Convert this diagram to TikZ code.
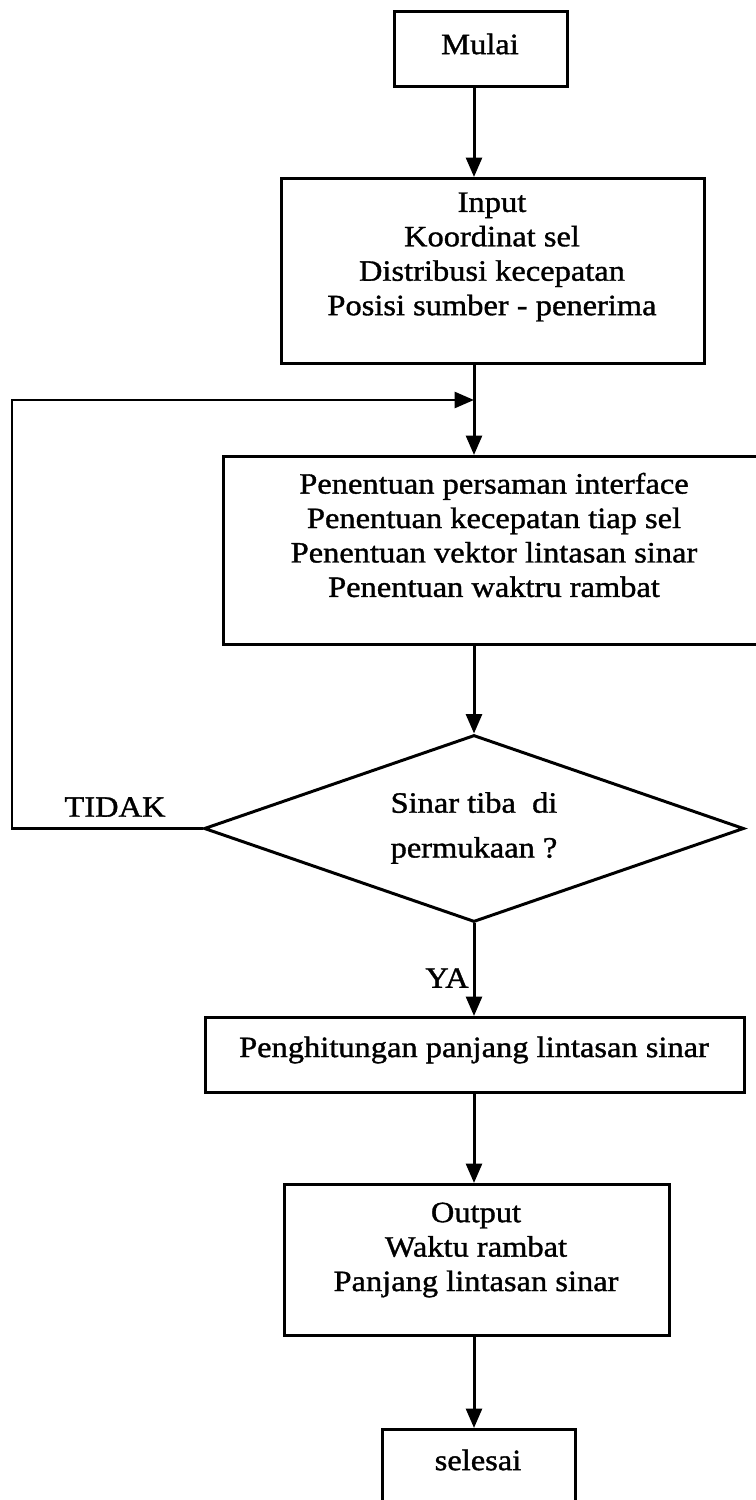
\documentclass[tikz,border=0pt]{standalone}
\usepackage{fontspec}
\setmainfont{Liberation Serif}[FakeStretch=1.1,FakeBold=1.2]
\usetikzlibrary{shapes.geometric,arrows.meta}
\begin{document}
\begin{tikzpicture}[x=0.02cm,y=-0.02cm,
  box/.style={draw, line width=1.7pt, rectangle, inner sep=0pt, anchor=north west},
  txt/.style={align=center, font=\fontsize{16.8pt}{19.6pt}\selectfont, inner sep=0pt},
  arr/.style={line width=1.7pt, -{Triangle[length=11pt,width=9pt]}}]
\useasboundingbox (0,0) rectangle (756,1500);
% vertical guide
\coordinate (vx) at (474,0);
% boxes
\node[box, minimum width=3.46cm, minimum height=1.5cm] (mulai) at (393,10) {};
\node[box, minimum width=8.46cm, minimum height=3.7cm] (input) at (280,177) {};
\node[box, minimum width=10.88cm, minimum height=3.76cm] (proc) at (222,455) {};
\node[diamond, draw, line width=1.7pt, inner sep=0pt, minimum width=10.8cm, minimum height=3.74cm] (dec) at (474,828.5) {};
\node[box, minimum width=10.78cm, minimum height=1.5cm] (hitung) at (204,1016) {};
\node[box, minimum width=7.7cm, minimum height=3.02cm] (output) at (283,1183) {};
\node[box, minimum width=3.86cm, minimum height=2.04cm] (selesai) at (381,1428) {};
% texts
\node[txt] (mulaitxt) at (480,44) {Mulai};
\node[txt] (inputtxt) at (492,257) {Input\\Koordinat sel\\Distribusi kecepatan\\Posisi sumber - penerima};
\node[txt] (proctxt) at (494,535) {Penentuan persaman interface\\Penentuan kecepatan tiap sel\\Penentuan vektor lintasan sinar\\Penentuan waktru rambat};
\node[txt, font=\fontsize{16.8pt}{25.5pt}\selectfont] (dectxt) at (474,828) {Sinar tiba\ \ di\\permukaan ?};
\node[txt] (tidak) at (115,807) {TIDAK};
\node[txt, anchor=east] (ya) at (469,978) {YA};
\node[txt] (hitungtxt) at (474,1050) {Penghitungan panjang lintasan sinar};
\node[txt] (outputtxt) at (476,1250) {Output\\Waktu rambat\\Panjang lintasan sinar};
\node[txt] (selesaitxt) at (478,1460) {selesai};
% loop coordinates
\coordinate (lt) at (12,400);
\coordinate (lj) at (474,400);
% connectors
\draw[arr] (mulai.south -| vx) -- (input.north -| vx);
\draw[arr] (input.south -| vx) -- (proc.north -| vx);
\draw[arr] (dec.west) -| (lt) -- (lj);
\draw[arr] (proc.south -| vx) -- (dec.north);
\draw[arr] (dec.south) -- (hitung.north -| vx);
\draw[arr] (hitung.south -| vx) -- (output.north -| vx);
\draw[arr] (output.south -| vx) -- (selesai.north -| vx);
\end{tikzpicture}
\end{document}
